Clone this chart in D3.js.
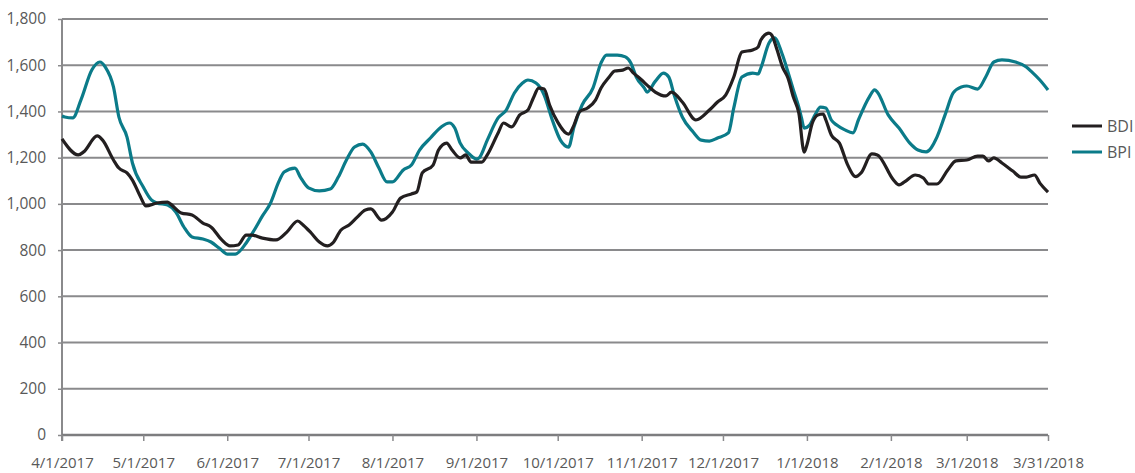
<!DOCTYPE html>
<html>
<head>
<meta charset="utf-8">
<script src="https://cdn.jsdelivr.net/npm/d3@7/dist/d3.min.js"></script>
<style>
  html, body { margin: 0; padding: 0; background: #fff; overflow: hidden; }
  svg { display: block; font-family: "Open Sans", "Noto Sans", sans-serif; }
</style>
</head>
<body>
<svg id="chart" width="1135" height="473"></svg>
<script>
const seriesNames = ["BDI", "BPI"];

const bdiDates = ["2017-04-01","2017-04-07","2017-04-09","2017-04-14","2017-04-16","2017-04-20","2017-04-22","2017-04-25","2017-04-27","2017-04-30",
"2017-05-02","2017-05-06","2017-05-10","2017-05-11","2017-05-15","2017-05-19","2017-05-23","2017-05-26","2017-05-30",
"2017-06-02","2017-06-05","2017-06-08","2017-06-10","2017-06-14","2017-06-19","2017-06-23","2017-06-27","2017-06-29",
"2017-07-02","2017-07-05","2017-07-08","2017-07-10","2017-07-13","2017-07-16","2017-07-19","2017-07-22","2017-07-24","2017-07-28",
"2017-08-01","2017-08-04","2017-08-08","2017-08-10","2017-08-12","2017-08-16","2017-08-18","2017-08-21","2017-08-23","2017-08-26","2017-08-28","2017-08-30",
"2017-09-03","2017-09-05","2017-09-09","2017-09-11","2017-09-14","2017-09-17","2017-09-20","2017-09-22","2017-09-24","2017-09-26","2017-09-28",
"2017-10-01","2017-10-05","2017-10-07","2017-10-09","2017-10-12","2017-10-15","2017-10-17","2017-10-20","2017-10-22","2017-10-25","2017-10-27","2017-10-29",
"2017-11-01","2017-11-03","2017-11-06","2017-11-10","2017-11-12","2017-11-16","2017-11-21","2017-11-26","2017-11-29",
"2017-12-02","2017-12-05","2017-12-08","2017-12-12","2017-12-14","2017-12-15","2017-12-18","2017-12-19","2017-12-21","2017-12-23","2017-12-25","2017-12-27","2017-12-29","2017-12-31",
"2018-01-01","2018-01-03","2018-01-05","2018-01-07","2018-01-08","2018-01-10","2018-01-13","2018-01-16","2018-01-19","2018-01-21","2018-01-25","2018-01-27",
"2018-02-02","2018-02-04","2018-02-06","2018-02-10","2018-02-13","2018-02-15","2018-02-18","2018-02-22","2018-02-25",
"2018-03-01","2018-03-05","2018-03-07","2018-03-09","2018-03-11","2018-03-14","2018-03-18","2018-03-21","2018-03-23","2018-03-26","2018-03-28","2018-03-31"];
const bdiValues = [1281,1212,1225,1294,1276,1190,1155,1134,1103,1030,
991,1004,1008,1000,961,952,917,900,844,
818,822,865,865,852,844,878,926,909,
874,835,818,831,887,909,943,974,978,930,
965,1025,1043,1052,1134,1168,1233,1263,1233,1199,1212,1181,
1181,1212,1307,1350,1333,1385,1406,1458,1501,1497,1428,
1354,1302,1341,1398,1415,1450,1501,1549,1575,1579,1588,1566,
1536,1514,1484,1467,1484,1441,1363,1406,1441,
1471,1549,1657,1666,1679,1709,1739,1731,1666,1592,1545,1462,1393,1224,
1255,1350,1385,1389,1363,1298,1263,1170,1118,1134,1216,1212,
1103,1082,1095,1125,1112,1086,1086,1147,1186,
1190,1207,1207,1186,1199,1177,1142,1116,1116,1125,1090,1051];

const bpiDates = ["2017-04-01","2017-04-02","2017-04-05","2017-04-08","2017-04-12","2017-04-15","2017-04-17","2017-04-20","2017-04-22","2017-04-25","2017-04-27",
"2017-05-01","2017-05-04","2017-05-06","2017-05-10","2017-05-13","2017-05-16","2017-05-19","2017-05-23","2017-05-26","2017-05-29",
"2017-06-01","2017-06-04","2017-06-08","2017-06-11","2017-06-14","2017-06-17","2017-06-20","2017-06-22","2017-06-26","2017-06-28",
"2017-07-01","2017-07-05","2017-07-09","2017-07-12","2017-07-15","2017-07-18","2017-07-21","2017-07-24","2017-07-27","2017-07-30",
"2017-08-01","2017-08-05","2017-08-08","2017-08-11","2017-08-15","2017-08-19","2017-08-22","2017-08-24","2017-08-26","2017-08-29",
"2017-09-01","2017-09-02","2017-09-05","2017-09-09","2017-09-12","2017-09-15","2017-09-18","2017-09-20","2017-09-23","2017-09-26","2017-09-29",
"2017-10-02","2017-10-05","2017-10-07","2017-10-10","2017-10-14","2017-10-17","2017-10-19","2017-10-23","2017-10-26","2017-10-28","2017-10-30",
"2017-11-02","2017-11-03","2017-11-06","2017-11-09","2017-11-11","2017-11-13","2017-11-16","2017-11-20","2017-11-23","2017-11-26","2017-11-29",
"2017-12-03","2017-12-05","2017-12-08","2017-12-12","2017-12-14","2017-12-15","2017-12-18","2017-12-20","2017-12-23","2017-12-25","2017-12-27","2017-12-29","2017-12-30","2017-12-31",
"2018-01-02","2018-01-04","2018-01-06","2018-01-08","2018-01-10","2018-01-12","2018-01-15","2018-01-18","2018-01-20","2018-01-24","2018-01-26","2018-01-27","2018-01-31",
"2018-02-04","2018-02-08","2018-02-11","2018-02-14","2018-02-18","2018-02-21","2018-02-24","2018-02-27",
"2018-03-01","2018-03-05","2018-03-08","2018-03-11","2018-03-14","2018-03-19","2018-03-23","2018-03-25","2018-03-28","2018-03-31"];
const bpiValues = [1380,1376,1372,1450,1579,1614,1592,1506,1376,1289,1177,
1073,1017,1004,995,965,900,857,848,835,809,
783,783,831,887,948,1004,1095,1138,1155,1116,
1069,1056,1064,1116,1190,1246,1259,1225,1155,1095,
1095,1147,1168,1233,1285,1333,1350,1328,1263,1220,
1194,1199,1276,1372,1406,1480,1523,1536,1523,1471,1363,
1276,1246,1333,1428,1501,1610,1644,1644,1636,1610,1549,
1501,1484,1530,1566,1549,1471,1376,1311,1276,1272,1285,
1307,1415,1549,1566,1562,1588,1696,1718,1644,1571,1493,1419,1372,1328,
1341,1385,1419,1415,1363,1341,1320,1307,1363,1462,1493,1484,1385,
1328,1263,1233,1225,1289,1385,1480,1506,
1510,1497,1549,1614,1623,1614,1592,1571,1536,1493];

const xTickDates = ["2017-04-01","2017-05-01","2017-06-01","2017-07-01","2017-08-01","2017-09-01","2017-10-01","2017-11-01","2017-12-01","2018-01-01","2018-02-01","2018-03-01","2018-03-31"];
const xTickLabels = ["4/1/2017","5/1/2017","6/1/2017","7/1/2017","8/1/2017","9/1/2017","10/1/2017","11/1/2017","12/1/2017","1/1/2018","2/1/2018","3/1/2018","3/31/2018"];
const yTicks = [0,200,400,600,800,1000,1200,1400,1600,1800];

const colors = { BDI: "#231f20", BPI: "#0b7b89" };

const parse = d3.timeParse("%Y-%m-%d");
const svg = d3.select("#chart");
const L = 62, R = 1048, T = 19, B = 435;

const x = d3.scaleTime().domain([parse(xTickDates[0]), parse(xTickDates[xTickDates.length-1])]).range([L, R]);
const y = d3.scaleLinear().domain([0, 1800]).range([B, T]);

// gridlines
svg.append("g").selectAll("line").data(yTicks.filter(v => v > 0)).join("line")
  .attr("x1", L).attr("x2", R)
  .attr("y1", d => y(d)).attr("y2", d => y(d))
  .attr("stroke", "#8a8a8c").attr("stroke-width", 2);

// y axis
const yAxis = d3.axisLeft(y).tickValues(yTicks).tickSize(4).tickPadding(12)
  .tickFormat(d3.format(","));
const gy = svg.append("g").attr("transform", `translate(${L},0)`).call(yAxis);
gy.select(".domain").attr("stroke", "#8a8a8c").attr("stroke-width", 2).attr("d", `M0,${T}V${B+6}`);
gy.selectAll(".tick line").attr("stroke", "#8a8a8c").attr("stroke-width", 1.5);
gy.selectAll(".tick text").attr("fill", "#595959").style("font-size", "15.5px").style("font-family", '"Open Sans", sans-serif');

// x axis
const xAxis = d3.axisBottom(x).tickValues(xTickDates.map(parse)).tickSize(6).tickPadding(16)
  .tickFormat((d, i) => xTickLabels[i]);
const gx = svg.append("g").attr("transform", `translate(0,${B})`).call(xAxis);
gx.select(".domain").attr("stroke", "#7d7d7f").attr("stroke-width", 2.5).attr("d", `M${L},0H${R}`);
gx.selectAll(".tick line").attr("stroke", "#8a8a8c").attr("stroke-width", 1.5);
gx.selectAll(".tick text").attr("fill", "#595959").style("font-size", "15px").style("font-family", '"Open Sans", sans-serif');

// lines
const line = d3.line().x(d => x(d.date)).y(d => y(d.value)).curve(d3.curveMonotoneX);
const bdi = bdiDates.map((d, i) => ({ date: parse(d), value: bdiValues[i] }));
const bpi = bpiDates.map((d, i) => ({ date: parse(d), value: bpiValues[i] }));

svg.append("path").datum(bpi).attr("d", line)
  .attr("fill", "none").attr("stroke", colors.BPI).attr("stroke-width", 3.2).attr("stroke-linejoin", "round");
svg.append("path").datum(bdi).attr("d", line)
  .attr("fill", "none").attr("stroke", colors.BDI).attr("stroke-width", 3.2).attr("stroke-linejoin", "round");

// legend
const lg = svg.append("g").attr("transform", "translate(1072,126)");
seriesNames.forEach((name, i) => {
  const g = lg.append("g").attr("transform", `translate(0,${i*26})`);
  g.append("line").attr("x1", 0).attr("x2", 30).attr("y1", 0).attr("y2", 0)
    .attr("stroke", colors[name]).attr("stroke-width", 3);
  g.append("text").attr("x", 35).attr("y", 0).attr("dy", "0.36em")
    .attr("fill", "#595959").style("font-size", "16px").text(name);
});
</script>
</body>
</html>
